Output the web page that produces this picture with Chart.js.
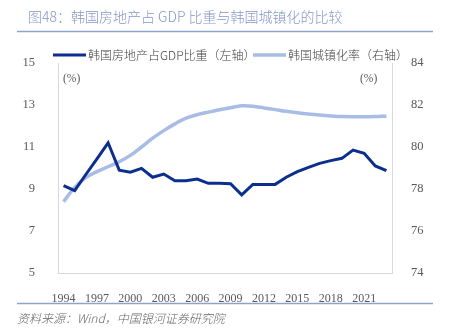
<!DOCTYPE html>
<html>
<head>
<meta charset="utf-8">
<script src="https://cdn.jsdelivr.net/npm/chart.js@4"></script>
<style>
  html, body { margin: 0; padding: 0; background: #fff; }
  #wrap { width: 451px; height: 328px; position: relative; }
</style>
</head>
<body>
<div id="wrap"><canvas id="UrbanChart" width="451" height="328"></canvas></div>
<script>
// 年份（类别轴）
const years = [
  "1994", "1995", "1996", "1997", "1998", "1999", "2000", "2001", "2002", "2003",
  "2004", "2005", "2006", "2007", "2008", "2009", "2010", "2011", "2012", "2013",
  "2014", "2015", "2016", "2017", "2018", "2019", "2020", "2021", "2022", "2023",
];

// 韩国房地产占GDP比重（%，左轴）
const realEstateShare = [
  9.16, 8.92, 9.69, 10.44, 11.2, 9.9, 9.8, 9.98, 9.56, 9.71,
  9.39, 9.39, 9.47, 9.27, 9.27, 9.25, 8.72, 9.22, 9.22, 9.22,
  9.56, 9.83, 10.03, 10.22, 10.35, 10.46, 10.85, 10.7, 10.1, 9.87,
];

// 韩国城镇化率（%，右轴）
const urbanRate = [
  77.4, 78.08, 78.54, 78.83, 79.06, 79.3, 79.6, 80.0, 80.42, 80.78,
  81.1, 81.37, 81.54, 81.66, 81.77, 81.87, 81.96, 81.94, 81.86, 81.78,
  81.7, 81.63, 81.57, 81.52, 81.48, 81.45, 81.44, 81.44, 81.45, 81.47,
];

const leftTicks = [5, 7, 9, 11, 13, 15];
const rightTicks = [74, 76, 78, 80, 82, 84];

const DARK = "#0c2f8f";
const LIGHT = "#a8bce6";
const RULE = "#8ea2cf";
const TICK_COLOR = "#595959";
const SERIF = "'Liberation Serif', 'Noto Sans CJK SC', serif";
const CJK = "'Noto Sans CJK SC', sans-serif";

// 标题、图例、单位、资料来源
const decorPlugin = {
  id: "decor",
  afterDraw(chart) {
    const ctx = chart.ctx;
    const area = chart.chartArea;
    ctx.save();

    ctx.fillStyle = "#8597c9";
    ctx.font = "300 14px " + CJK;
    ctx.textBaseline = "middle";
    ctx.textAlign = "left";
    ctx.fillText("图48：韩国房地产占 GDP 比重与韩国城镇化的比较", 28, 17);

    ctx.strokeStyle = RULE;
    ctx.lineWidth = 1.5;
    ctx.beginPath();
    ctx.moveTo(17, 31.5);
    ctx.lineTo(433, 31.5);
    ctx.moveTo(17, 303.5);
    ctx.lineTo(433, 303.5);
    ctx.stroke();

    // 图例
    const legendX = [53, 253];
    ctx.font = "300 12px " + CJK;
    ctx.fillStyle = "#404040";
    chart.data.datasets.forEach((ds, i) => {
      ctx.strokeStyle = ds.borderColor;
      ctx.lineWidth = ds.borderWidth;
      ctx.beginPath();
      ctx.moveTo(legendX[i], 55);
      ctx.lineTo(legendX[i] + 33, 55);
      ctx.stroke();
      ctx.fillText(ds.label, legendX[i] + 35, 55);
    });

    ctx.font = "11.5px " + SERIF;
    ctx.fillStyle = TICK_COLOR;
    ctx.fillText("(%)", area.left + 5, 79);
    ctx.fillText("(%)", area.right - 32, 79);

    ctx.font = "italic 300 12px " + CJK;
    ctx.fillStyle = "#666666";
    ctx.fillText("资料来源：Wind，中国银河证券研究院", 17, 318);

    ctx.restore();
  },
};

const ctx = document.getElementById("UrbanChart").getContext("2d");
new Chart(ctx, {
  type: "line",
  data: {
    labels: years,
    datasets: [
      {
        label: "韩国房地产占GDP比重（左轴）",
        data: realEstateShare,
        yAxisID: "y",
        borderColor: DARK,
        backgroundColor: DARK,
        borderWidth: 3,
        pointRadius: 0,
        tension: 0,
      },
      {
        label: "韩国城镇化率（右轴）",
        data: urbanRate,
        yAxisID: "y1",
        borderColor: LIGHT,
        backgroundColor: LIGHT,
        borderWidth: 3.5,
        pointRadius: 0,
        tension: 0.35,
      },
    ],
  },
  options: {
    responsive: false,
    animation: false,
    layout: { padding: { top: 63, left: 0, right: 0, bottom: 0 } },
    plugins: {
      legend: { display: false },
      title: { display: false },
      tooltip: { enabled: false },
    },
    scales: {
      x: {
        offset: true,
        grid: { display: false },
        border: { display: true, color: "#d9d9d9", width: 1 },
        ticks: {
          autoSkip: false,
          maxRotation: 0,
          padding: 11,
          color: TICK_COLOR,
          font: { family: SERIF, size: 12 },
          callback: (val, idx) => (idx % 3 === 0 ? years[idx] : ""),
        },
        afterFit: (s) => { s.height = 55; },
      },
      y: {
        position: "left",
        min: 5,
        max: 15,
        afterBuildTicks: (s) => { s.ticks = leftTicks.map((v) => ({ value: v })); },
        grid: { display: false },
        border: { display: true, color: "#d9d9d9", width: 1 },
        ticks: {
          padding: 15,
          color: TICK_COLOR,
          font: { family: SERIF, size: 12.5 },
        },
        afterFit: (s) => { s.width = 58; },
      },
      y1: {
        position: "right",
        min: 74,
        max: 84,
        afterBuildTicks: (s) => { s.ticks = rightTicks.map((v) => ({ value: v })); },
        grid: { display: false },
        border: { display: true, color: "#d9d9d9", width: 1 },
        ticks: {
          padding: 11,
          color: TICK_COLOR,
          font: { family: SERIF, size: 12.5 },
        },
        afterFit: (s) => { s.width = 59; },
      },
    },
  },
  plugins: [decorPlugin],
});
</script>
</body>
</html>
